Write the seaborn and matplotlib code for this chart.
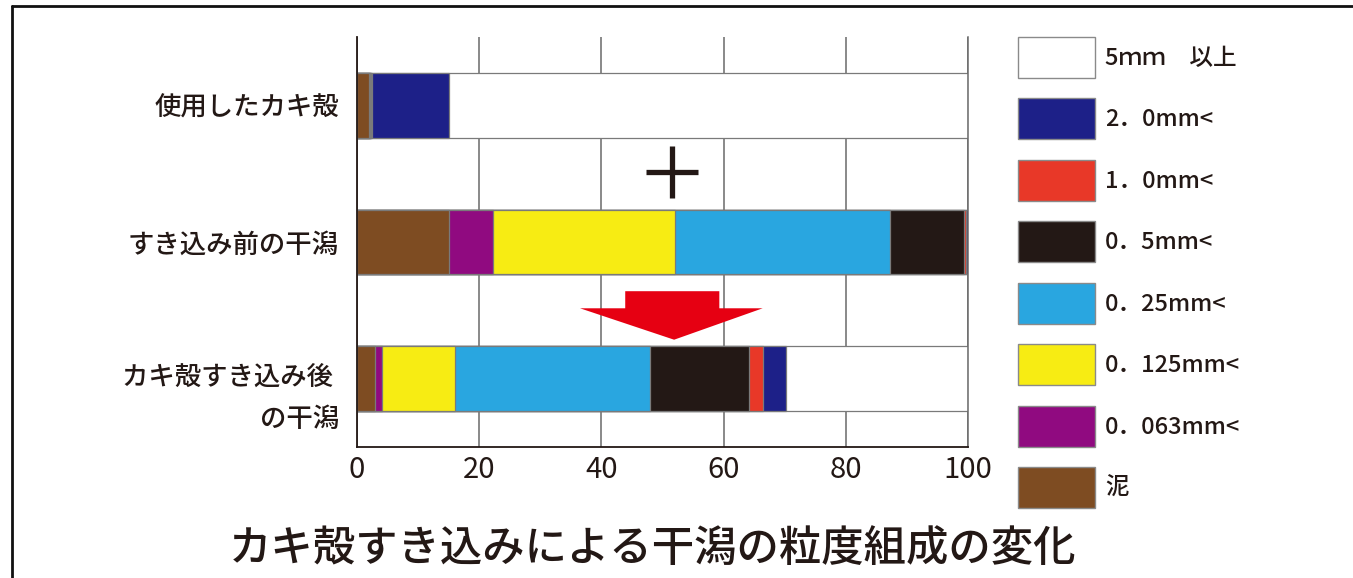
import numpy as np
import pandas as pd
import matplotlib
matplotlib.use("Agg")
import matplotlib.pyplot as plt
import matplotlib.transforms as mtransforms
from matplotlib.patches import Patch, Polygon
from matplotlib.lines import Line2D
import seaborn as sns

# ---------------- data ----------------
categories = ["使用したカキ殻", "すき込み前の干潟", "カキ殻すき込み後 \nの干潟"]
size_labels = ["泥", "0．063mm<", "0．125mm<", "0．25mm<", "0．5mm<", "1．0mm<", "2．0mm<", "5ｍｍ　以上"]
size_colors = ["#7e4c22", "#900a80", "#f7ec13", "#29a6e0", "#231815", "#e83828", "#1d2088", "#ffffff"]

mud   = [1.9, 15.1, 2.9]
s0063 = [0.15, 7.1, 1.2]
s0125 = [0.1, 29.8, 12.0]
s025  = [0.1, 35.2, 31.9]
s05   = [0.1, 12.1, 16.2]
s10   = [0.15, 0.3, 2.3]
s20   = [12.6, 0.4, 3.7]
s5    = [84.9, 0.0, 29.8]
series = [mud, s0063, s0125, s025, s05, s10, s20, s5]

x_ticks = [0, 20, 40, 60, 80, 100]
title = "カキ殻すき込みによる干潟の粒度組成の変化"

# ---------------- style ----------------
sns.set_theme(style="white")
plt.rcParams["font.family"] = ["Noto Sans CJK JP", "DejaVu Sans"]

W, H = 1353, 578
fig = plt.figure(figsize=(W / 100, H / 100), dpi=100)
ax = fig.add_axes([357 / W, 1 - 447 / H, (968 - 357) / W, (447 - 37) / H])

cum = np.cumsum(np.array(series), axis=0)
df = pd.DataFrame({"category": categories})
for i in range(len(series) - 1, -1, -1):
    df["v"] = cum[i]
    sns.barplot(data=df, x="v", y="category", color=size_colors[i], orient="h",
                width=0.475, saturation=1, edgecolor="#7a7a7a", linewidth=0.9, ax=ax)

ax.set_xlim(0, 100)
ax.set_ylim(2.5, -0.5)
ax.set_xticks(x_ticks)
ax.set_xticklabels([str(t) for t in x_ticks], fontsize=21, color="#231815")
ax.set_xlabel("")
ax.set_ylabel("")
ax.set_axisbelow(True)
ax.grid(axis="x", color="#6a6a6a", linewidth=1.1)
ax.grid(axis="y", visible=False)
ax.tick_params(axis="both", length=0)
ax.tick_params(axis="x", pad=6)
ax.tick_params(axis="y", pad=13)
for lab in ax.get_yticklabels():
    lab.set_fontsize(19)
    lab.set_color("#231815")
    lab.set_fontweight("medium")
lab3 = ax.get_yticklabels()[2]
lab3.set_linespacing(1.75)
lab3.set_multialignment("right")
lab3.set_transform(lab3.get_transform() + mtransforms.ScaledTranslation(0, -9 / 100, fig.dpi_scale_trans))

for s in ["left", "bottom"]:
    ax.spines[s].set_color("#231815")
    ax.spines[s].set_linewidth(1.3)
ax.spines["top"].set_visible(False)
ax.spines["right"].set_color("#6a6a6a")
ax.spines["right"].set_linewidth(1.1)

# plus sign and arrow (annotations)
ax.plot([47.3, 55.8], [0.49, 0.49], color="#231815", lw=3.8, solid_capstyle="butt", zorder=5)
ax.plot([51.55, 51.55], [0.30, 0.675], color="#231815", lw=3.8, solid_capstyle="butt", zorder=5)
arrow = Polygon([[43.9, 1.36], [59.3, 1.36], [59.3, 1.485], [66.4, 1.485],
                 [51.9, 1.715], [36.5, 1.485], [43.9, 1.485]],
                closed=True, facecolor="#e60012", edgecolor="none", zorder=5)
ax.add_patch(arrow)

# legend
handles = [Patch(facecolor=size_colors[i], edgecolor="#8a8a8a", linewidth=1.0)
           for i in range(len(series) - 1, -1, -1)]
labels = [size_labels[i] for i in range(len(series) - 1, -1, -1)]
leg = fig.legend(handles, labels, loc="upper left", bbox_to_anchor=(1018 / W, 1 - 37 / H),
                 frameon=False, fontsize=17, handlelength=3.26, handleheight=2.29,
                 labelspacing=0.87, handletextpad=0.42, borderpad=0, borderaxespad=0)
for t in leg.get_texts():
    t.set_color("#231815")
    t.set_fontweight("medium")

# title
fig.text(653 / W, 1 - 548 / H, title, ha="center", va="center", fontsize=30.5,
         color="#231815", fontweight="medium")

# outer frame lines
fig.add_artist(Line2D([11.5 / W, 1], [1 - 5.5 / H, 1 - 5.5 / H], color="#111111", lw=2.0, transform=fig.transFigure))
fig.add_artist(Line2D([11.5 / W, 11.5 / W], [1 - 5.5 / H, 0], color="#111111", lw=2.0, transform=fig.transFigure))

fig.savefig("out.png", dpi=100)
